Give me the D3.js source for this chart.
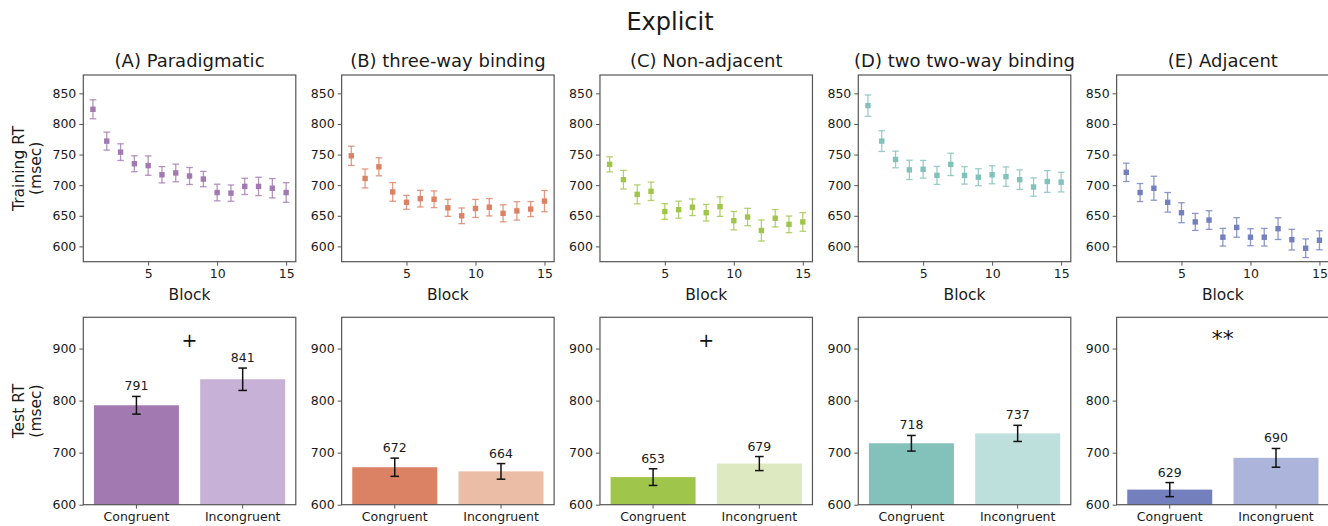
<!DOCTYPE html>
<html>
<head>
<meta charset="utf-8">
<script src="https://cdn.jsdelivr.net/npm/d3@7"></script>
<style>
  body{margin:0;background:#fff;}
  svg{font-family:"DejaVu Sans",sans-serif;display:block;}
</style>
</head>
<body>
<svg id="chart" width="1328" height="526"></svg>
<script>
// ---- data ----
const titles=["(A) Paradigmatic","(B) three-way binding","(C) Non-adjacent","(D) two two-way binding","(E) Adjacent"];
const blocks=d3.range(1,16);
const trainMeans=[
  [824,772,754,735,732,717,720,715,710,688,687,698,698,695,688],
  [748,711,730,689,672,678,677,663,650,662,664,654,658,661,674],
  [734,709,685,690,657,660,664,655,665,642,648,626,646,636,640],
  [830,772,742,725,726,716,734,716,713,717,714,709,697,706,705],
  [721,688,695,672,655,640,643,615,631,615,615,629,611,597,610]
];
const trainErr=[
  [15.5,14.7,13.6,13,15.8,13.3,14.4,13.9,12.5,13.6,13.3,13.3,15,15.8,16],
  [15.8,15.5,14.7,15.2,11.4,13.6,13.6,13.9,12.8,14.7,14.2,13.9,15,12.3,17.4],
  [12.3,15.2,15.5,15,12.8,13.9,13.6,13.6,16,15,14.2,17.2,14.2,13.6,15.2],
  [17.4,16.9,13.6,15.8,14.4,14.7,18.2,14.2,13.9,14.7,15.8,16,15,17.7,16],
  [15,14.7,19.6,16,16.3,13.9,15.2,14.4,16,13.9,14.4,17.7,16.9,15.2,15.5]
];
const conditions=["Congruent","Incongruent"];
const testMeans=[[791,841],[672,664],[653,679],[718,737],[629,690]];
const testErr=[[17,21.5],[17.5,15],[16,13.5],[15,15.5],[13.5,18]];
const signif=["+","","+","","**"];
const darkColors=["#a279b0","#db8265","#a0c54b","#83c1bb","#7480bd"];
const lightColors=["#c8b1d6","#ebbca6","#dde9c0","#bee0dc","#adb4dc"];
const trainTicks=[600,650,700,750,800,850];
const testTicks=[600,700,800,900];

// ---- layout ----
const svg=d3.select('#chart');
const panelW=212.5, step=258.33, left0=83.3;
const topY0=75, topY1=261.7, botY0=317.3, botY1=504.7;
const spine="#555", txt="#1a1a1a";

svg.append('text').attr('x',670).attr('y',30).attr('text-anchor','middle')
  .attr('font-size',24).attr('fill',txt).text('Explicit');

function ylab(lines,cy){
  const g=svg.append('g').attr('transform',`translate(27,${cy}) rotate(-90)`);
  g.append('text').attr('text-anchor','middle').attr('font-size',15.5).attr('fill',txt)
    .selectAll('tspan').data(lines).join('tspan')
    .attr('x',0).attr('dy',(d,i)=>i==0?-3:17).text(d=>d);
}
ylab(["Training RT","(msec)"],(topY0+topY1)/2);
ylab(["Test RT","(msec)"],(botY0+botY1)/2);

function styleAxis(g){
  g.attr('font-size',null).attr('font-family',null);
  g.select('.domain').remove();
  g.selectAll('.tick line').attr('stroke',spine).attr('stroke-width',1);
  g.selectAll('.tick text').attr('fill',txt).style('font-size','12.5px');
}

titles.forEach((t,p)=>{
  const x0=left0+p*step, x1=x0+panelW;

  // ---- training panel ----
  const x=d3.scaleLinear().domain([0.3,15.7]).range([x0,x1]);
  const y=d3.scaleLinear().domain([575,880]).range([topY1,topY0]);
  svg.append('text').attr('x',(x0+x1)/2).attr('y',67).attr('text-anchor','middle')
    .attr('font-size',18).attr('fill',txt).text(t);

  const gx=svg.append('g').attr('transform',`translate(0,${topY1})`)
    .call(d3.axisBottom(x).tickValues([5,10,15]).tickSize(4).tickPadding(3));
  styleAxis(gx);
  const gy=svg.append('g').attr('transform',`translate(${x0},0)`)
    .call(d3.axisLeft(y).tickValues(trainTicks).tickSize(4).tickPadding(3));
  styleAxis(gy);
  svg.append('text').attr('x',(x0+x1)/2).attr('y',300).attr('text-anchor','middle')
    .attr('font-size',15.5).attr('fill',txt).text('Block');

  const pts=blocks.map((b,i)=>({b,m:trainMeans[p][i],e:trainErr[p][i]}));
  const eg=svg.append('g').attr('stroke',darkColors[p]).attr('stroke-width',1.3).attr('stroke-opacity',0.8);
  eg.selectAll('line.v').data(pts).join('line').attr('class','v')
    .attr('x1',d=>x(d.b)).attr('x2',d=>x(d.b)).attr('y1',d=>y(d.m-d.e)).attr('y2',d=>y(d.m+d.e));
  eg.selectAll('line.t').data(pts).join('line').attr('class','t')
    .attr('x1',d=>x(d.b)-3.3).attr('x2',d=>x(d.b)+3.3).attr('y1',d=>y(d.m+d.e)).attr('y2',d=>y(d.m+d.e));
  eg.selectAll('line.b').data(pts).join('line').attr('class','b')
    .attr('x1',d=>x(d.b)-3.3).attr('x2',d=>x(d.b)+3.3).attr('y1',d=>y(d.m-d.e)).attr('y2',d=>y(d.m-d.e));
  svg.append('g').attr('fill',darkColors[p]).selectAll('rect').data(pts).join('rect')
    .attr('x',d=>x(d.b)-2.7).attr('y',d=>y(d.m)-2.7).attr('width',5.4).attr('height',5.4);

  svg.append('rect').attr('x',x0).attr('y',topY0).attr('width',panelW).attr('height',topY1-topY0)
    .attr('fill','none').attr('stroke',spine).attr('stroke-width',1.2);

  // ---- test panel ----
  const xb=d3.scaleBand().domain(conditions).range([x0,x1]).paddingInner(0.2).paddingOuter(0.1);
  const yb=d3.scaleLinear().domain([600,960]).range([botY1,botY0]);
  const bars=conditions.map((c,i)=>({c,m:testMeans[p][i],e:testErr[p][i],col:i?lightColors[p]:darkColors[p]}));
  svg.append('g').selectAll('rect').data(bars).join('rect')
    .attr('x',d=>xb(d.c)).attr('width',xb.bandwidth())
    .attr('y',d=>yb(d.m)).attr('height',d=>botY1-yb(d.m)).attr('fill',d=>d.col);
  const be=svg.append('g').attr('stroke','#111').attr('stroke-width',1.5);
  bars.forEach(d=>{
    const cx=xb(d.c)+xb.bandwidth()/2;
    be.append('line').attr('x1',cx).attr('x2',cx).attr('y1',yb(d.m-d.e)).attr('y2',yb(d.m+d.e));
    be.append('line').attr('x1',cx-4.3).attr('x2',cx+4.3).attr('y1',yb(d.m-d.e)).attr('y2',yb(d.m-d.e));
    be.append('line').attr('x1',cx-4.3).attr('x2',cx+4.3).attr('y1',yb(d.m+d.e)).attr('y2',yb(d.m+d.e));
    svg.append('text').attr('x',cx).attr('y',yb(d.m+d.e)-6).attr('text-anchor','middle')
      .attr('font-size',12.5).attr('fill',txt).text(d.m);
  });
  const gxb=svg.append('g').attr('transform',`translate(0,${botY1})`)
    .call(d3.axisBottom(xb).tickSize(4).tickPadding(3));
  styleAxis(gxb);
  const gyb=svg.append('g').attr('transform',`translate(${x0},0)`)
    .call(d3.axisLeft(yb).tickValues(testTicks).tickSize(4).tickPadding(3));
  styleAxis(gyb);
  if(signif[p]){
    const s=signif[p]=="**";
    svg.append('text').attr('x',(x0+x1)/2).attr('y',s?yb(905):yb(903)).attr('text-anchor','middle')
      .attr('font-size',s?22:19).attr('fill','#111').text(signif[p]);
  }
  svg.append('rect').attr('x',x0).attr('y',botY0).attr('width',panelW).attr('height',botY1-botY0)
    .attr('fill','none').attr('stroke',spine).attr('stroke-width',1.2);
});
</script>
</body>
</html>
